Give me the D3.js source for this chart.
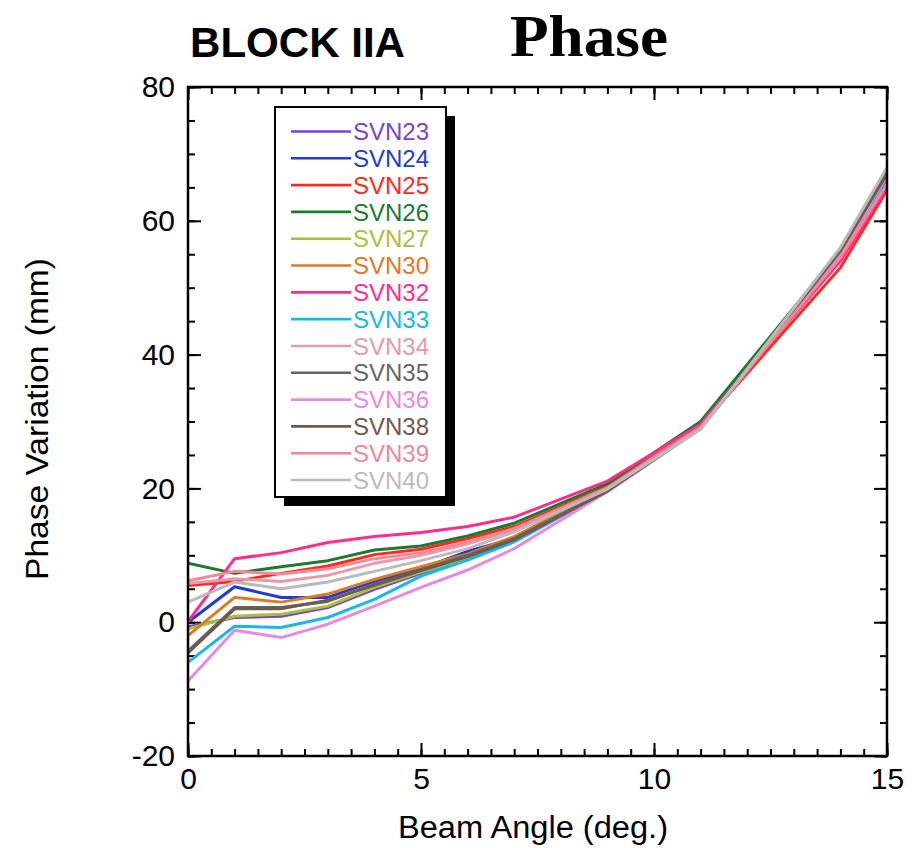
<!DOCTYPE html>
<html><head><meta charset="utf-8">
<script src="https://cdn.jsdelivr.net/npm/d3@7"></script>
<style>body{margin:0;background:#fff}svg{display:block}</style>
</head><body>
<script>
const angles = [0, 1, 2, 3, 4, 5, 6, 7, 9, 11, 14, 15];
const svnNames = ["SVN23","SVN24","SVN25","SVN26","SVN27","SVN30","SVN32","SVN33","SVN34","SVN35","SVN36","SVN38","SVN39","SVN40"];
const svnColors = ["#7b3fd6","#1f3bdc","#ff2a1a","#1b7a32","#a8c238","#e07a1e","#ff2d8c","#19b8e6","#e89aa8","#666666","#e88ae0","#6e5a50","#f08898","#bbbbbb"];
const svn23 = [-0.7, 0.7, 0.9, 2.2, 4.9, 7.3, 9.5, 12.2, 19.8, 29.0, 55.0, 66.5];
const svn24 = [0.0, 5.3, 3.7, 3.7, 6.1, 8.0, 10.6, 12.5, 20.0, 29.3, 55.3, 66.5];
const svn25 = [5.5, 6.1, 7.3, 8.4, 10.1, 10.9, 12.5, 14.3, 20.3, 29.3, 53.0, 64.6];
const svn26 = [8.8, 7.3, 8.3, 9.2, 10.8, 11.4, 12.9, 14.8, 20.7, 30.0, 55.5, 66.3];
const svn27 = [-1.0, 0.9, 1.2, 2.4, 5.2, 7.5, 9.6, 12.3, 19.8, 29.0, 55.0, 66.5];
const svn30 = [-2.0, 3.7, 3.0, 4.2, 6.4, 8.3, 10.2, 12.8, 20.0, 29.2, 55.2, 66.8];
const svn32 = [0.1, 9.5, 10.4, 11.9, 12.8, 13.4, 14.3, 15.7, 21.1, 29.6, 54.0, 65.0];
const svn33 = [-6.0, -0.6, -0.8, 0.7, 3.4, 6.9, 9.3, 12.0, 19.6, 29.0, 55.0, 66.5];
const svn34 = [5.8, 6.5, 6.1, 7.0, 8.8, 10.0, 11.7, 13.8, 20.0, 29.0, 55.5, 67.5];
const svn35 = [-4.3, 2.2, 2.2, 3.1, 5.7, 7.8, 10.0, 12.5, 19.7, 29.0, 55.8, 67.3];
const svn36 = [-8.8, -1.2, -2.3, -0.3, 2.4, 5.2, 7.8, 11.0, 19.5, 28.9, 55.0, 66.8];
const svn38 = [-4.6, 2.0, 2.0, 3.3, 5.5, 7.7, 9.8, 12.3, 19.6, 29.0, 55.5, 67.0];
const svn39 = [6.2, 7.6, 7.2, 8.0, 9.5, 10.4, 12.0, 14.0, 20.1, 29.2, 54.5, 65.5];
const svn40 = [3.0, 6.0, 5.0, 6.0, 7.6, 9.2, 11.0, 13.5, 19.9, 28.8, 56.0, 68.0];
const seriesValues = [svn23, svn24, svn25, svn26, svn27, svn30, svn32, svn33, svn34, svn35, svn36, svn38, svn39, svn40];
const xMajorTicks = [0, 5, 10, 15];
const yMajorTicks = [-20, 0, 20, 40, 60, 80];

const W = 919, H = 848;
const L = 188, R = 887, T = 87, B = 756;
const svg = d3.select("body").append("svg").attr("width", W).attr("height", H);
const x = d3.scaleLinear().domain([0, 15]).range([L, R]);
const y = d3.scaleLinear().domain([-20, 80]).range([B, T]);
const sans = "'Liberation Sans', Arial, Helvetica, sans-serif";
const fmt = d => String(d);

// titles
svg.append("text").attr("x", 190).attr("y", 57).attr("font-family", sans).attr("font-weight", "bold")
  .attr("font-size", 42).attr("textLength", 215).attr("lengthAdjust", "spacingAndGlyphs").text("BLOCK IIA");
svg.append("text").attr("x", 510).attr("y", 56).attr("font-family", "'Liberation Serif', 'Times New Roman', serif")
  .attr("font-weight", "bold").attr("font-size", 60).attr("textLength", 158).attr("lengthAdjust", "spacingAndGlyphs").text("Phase");

// axes
const minorX = d3.range(0, 15.001, 0.5);
const minorY = d3.range(-20, 80.001, 5);
function styleAxis(g){ g.select(".domain").remove(); g.selectAll("line").attr("stroke","#000").attr("stroke-width",2);
  g.selectAll("text").attr("font-family", sans).attr("font-size", 30).attr("fill","#000"); }
svg.append("g").attr("transform", `translate(0,${B})`).call(d3.axisBottom(x).tickValues(minorX).tickSize(-7).tickFormat("")).call(styleAxis);
svg.append("g").attr("transform", `translate(0,${B})`).call(d3.axisBottom(x).tickValues(xMajorTicks).tickSize(-13).tickPadding(12).tickFormat(fmt)).call(styleAxis);
svg.append("g").attr("transform", `translate(0,${T})`).call(d3.axisTop(x).tickValues(minorX).tickSize(-7).tickFormat("")).call(styleAxis);
svg.append("g").attr("transform", `translate(0,${T})`).call(d3.axisTop(x).tickValues(xMajorTicks).tickSize(-13).tickFormat("")).call(styleAxis);
svg.append("g").attr("transform", `translate(${L},0)`).call(d3.axisLeft(y).tickValues(minorY).tickSize(-7).tickFormat("")).call(styleAxis);
svg.append("g").attr("transform", `translate(${L},0)`).call(d3.axisLeft(y).tickValues(yMajorTicks).tickSize(-13).tickPadding(13).tickFormat(fmt)).call(styleAxis);
svg.append("g").attr("transform", `translate(${R},0)`).call(d3.axisRight(y).tickValues(minorY).tickSize(-7).tickFormat("")).call(styleAxis);
svg.append("g").attr("transform", `translate(${R},0)`).call(d3.axisRight(y).tickValues(yMajorTicks).tickSize(-13).tickFormat("")).call(styleAxis);

svg.append("text").attr("x", 398).attr("y", 838).attr("font-family", sans)
  .attr("font-size", 31).attr("textLength", 270).attr("lengthAdjust", "spacingAndGlyphs").text("Beam Angle (deg.)");
svg.append("text").attr("transform", `translate(48,580) rotate(-90)`)
  .attr("font-family", sans).attr("font-size", 31).attr("textLength", 322).attr("lengthAdjust", "spacingAndGlyphs").text("Phase Variation (mm)");

// lines
const line = d3.line().x((d, i) => x(angles[i])).y(d => y(d));
svg.append("clipPath").attr("id", "clip").append("rect").attr("x", L).attr("y", T).attr("width", R - L).attr("height", B - T);
const lg = svg.append("g").attr("clip-path", "url(#clip)");
seriesValues.forEach((vals, k) => {
  lg.append("path").datum(vals).attr("d", line).attr("fill", "none").attr("stroke", svnColors[k])
    .attr("stroke-width", 3).attr("stroke-linejoin", "round");
});

// frame
svg.append("rect").attr("x", L).attr("y", T).attr("width", R - L).attr("height", B - T)
  .attr("fill", "none").attr("stroke", "#000").attr("stroke-width", 2.5);

// legend
const lx = 275, ly = 107, lw = 171, lh = 390, sh = 9;
svg.append("rect").attr("x", lx + sh).attr("y", ly + sh).attr("width", lw).attr("height", lh).attr("fill", "#000");
svg.append("rect").attr("x", lx).attr("y", ly).attr("width", lw).attr("height", lh).attr("fill", "#fff").attr("stroke", "#000").attr("stroke-width", 2);
const rowY = d3.scaleLinear().domain([0, svnNames.length - 1]).range([131.5, 480]);
svnNames.forEach((name, k) => {
  const yy = rowY(k);
  svg.append("line").attr("x1", 291).attr("x2", 351).attr("y1", yy).attr("y2", yy).attr("stroke", svnColors[k]).attr("stroke-width", 2.6);
  svg.append("text").attr("x", 353).attr("y", yy).attr("dy", "0.36em").attr("font-family", sans).attr("font-size", 24)
    .attr("fill", svnColors[k]).text(name);
});
</script>
</body></html>
